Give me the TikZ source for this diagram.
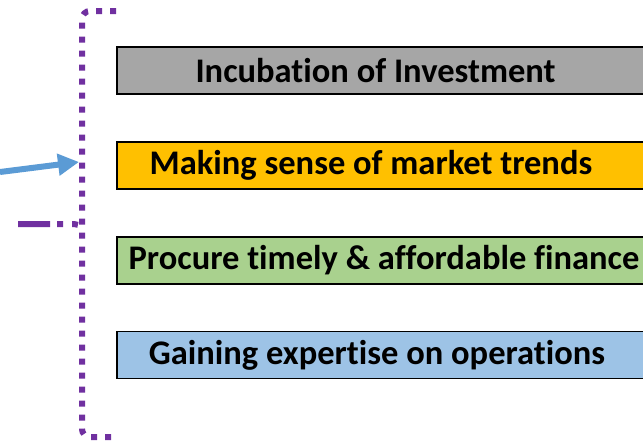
\documentclass[tikz,border=0pt]{standalone}
\usepackage{fontspec}
\setmainfont{Carlito}[Ligatures=NoCommon]
\usetikzlibrary{positioning, arrows.meta}
\definecolor{cardgrey}{HTML}{A6A6A6}
\definecolor{cardorange}{HTML}{FFC000}
\definecolor{cardgreen}{HTML}{A9D18E}
\definecolor{cardblue}{HTML}{9DC3E6}
\definecolor{bracepurple}{HTML}{7030A0}
\definecolor{arrowblue}{HTML}{5B9BD5}

\begin{document}
\begin{tikzpicture}[x=1pt, y=-1pt,
  card/.style={draw=black, line width=1.8pt, minimum height=47pt, minimum width=560pt, inner sep=0pt},
  cardtext/.style={font=\bfseries\fontsize{34.5}{37}\selectfont, inner sep=0pt},
  brace/.style={draw=bracepurple, line width=6pt, dash pattern=on 6pt off 8pt}]
\useasboundingbox (0,0) rectangle (643,440);
\clip (0,0) rectangle (643,440);

% the four cards
\node[card, fill=cardgrey] (incub) at (397,70.5) {};
\node[card, fill=cardorange, below=46pt of incub] (trends) {};
\node[card, fill=cardgreen, below=46pt of trends] (finance) {};
\node[card, fill=cardblue, below=46pt of finance] (expert) {};

\node[cardtext] (incubtxt) at (incub -| 375.5,0) {Incubation of Investment};
\node[cardtext] (trendstxt) at (trends -| 371,0) {Making sense of market trends};
\node[cardtext] (financetxt) at (finance -| 384,0) {Procure timely \& affordable finance};
\node[cardtext] (experttxt) at (expert -| 377,0) {Gaining expertise on operations};

% the bracket
\coordinate (bracetop) at (116,11);
\coordinate (bracebot) at (116,437);
\coordinate (bracemid) at (82,224);
\coordinate (bracetip) at (18,224);
\draw[brace] (bracetop) -- (90,11) to[out=180, in=90] (82,19) -- (82,429)
  to[out=-90, in=180] (90,437) -- (bracebot);
\draw[draw=bracepurple, line width=6pt, dash pattern=on 32pt off 7pt on 6pt off 9pt on 6pt]
  (bracetip) -- (74,224) to[out=0, in=-120] (bracemid);

% the arrow
\coordinate (src) at (0,172);
\coordinate (dst) at (79,162);
\draw[arrowblue, line width=6pt, -{Triangle[length=21pt, width=21pt]}] (src) -- (dst);
\end{tikzpicture}
\end{document}
